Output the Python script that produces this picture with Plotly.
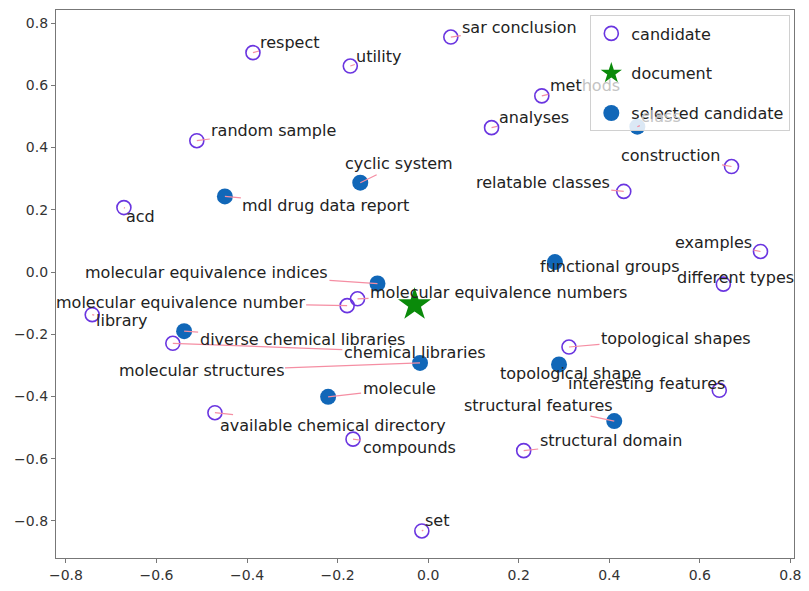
import plotly.graph_objects as go

# Candidate phrases (hollow markers)
cand_names = [
    "respect", "utility", "sar conclusion", "methods", "analyses",
    "random sample", "acd", "construction", "relatable classes", "examples",
    "different types", "library", "molecular equivalence numbers",
    "molecular equivalence number", "chemical libraries", "topological shapes",
    "interesting features", "available chemical directory", "compounds",
    "structural domain", "set",
]
cand_x = [-0.387, -0.172, 0.050, 0.251, 0.140, -0.511, -0.672, 0.670, 0.432, 0.734,
          0.652, -0.742, -0.156, -0.179, -0.564, 0.311, 0.643, -0.471, -0.166,
          0.211, -0.014]
cand_y = [0.705, 0.662, 0.755, 0.566, 0.464, 0.422, 0.207, 0.339, 0.259, 0.066,
          -0.039, -0.137, -0.086, -0.108, -0.229, -0.241, -0.380, -0.452, -0.537,
          -0.574, -0.832]

# Selected candidate phrases (filled markers)
sel_names = [
    "class", "cyclic system", "mdl drug data report", "functional groups",
    "molecular equivalence indices", "diverse chemical libraries",
    "molecular structures", "topological shape", "molecule", "structural features",
]
sel_x = [0.462, -0.150, -0.449, 0.280, -0.112, -0.539, -0.018, 0.289, -0.221, 0.411]
sel_y = [0.467, 0.287, 0.243, 0.032, -0.037, -0.190, -0.292, -0.297, -0.401, -0.479]

# Document embedding
doc_x = [-0.030]
doc_y = [-0.105]

# Label placement: pixel offset of each label from its point
label_offsets = {
    "respect": (37, -10), "utility": (29, -10), "sar conclusion": (69, -10),
    "methods": (43, -10), "analyses": (42, -10), "random sample": (77, -10),
    "acd": (17, 9), "construction": (-61, -11), "relatable classes": (-81, -9),
    "examples": (-47, -9), "different types": (12, -7), "library": (29, 6),
    "molecular equivalence numbers": (141, -6),
    "molecular equivalence number": (-167, -3), "chemical libraries": (242, 9),
    "topological shapes": (107, -9), "interesting features": (-73, -7),
    "available chemical directory": (118, 13), "compounds": (56, 8),
    "structural domain": (87, -10), "set": (15, -10),
    "class": (24, -10), "cyclic system": (39, -19), "mdl drug data report": (101, 9),
    "functional groups": (55, 4), "molecular equivalence indices": (-171, -11),
    "diverse chemical libraries": (118, 8), "molecular structures": (-219, 8),
    "topological shape": (11, 9), "molecule": (71, -8), "structural features": (-76, -16),
}

# Labels partly hidden behind the semi-transparent legend box
label_markup = {
    "methods": "met<span style='color:#c4c4c4'>hods</span>",
    "class": "<span style='color:#c4c4c4'>class</span>",
}

FONT = "DejaVu Sans"
EDGE = "#6a35e0"
FILL = "#1167b8"
STAR = "#0a8a0a"
LINK = "#f58ea3"

fig = go.Figure()
fig.add_trace(go.Scatter(
    x=cand_x, y=cand_y, mode="markers", name="candidate", legendgroup="a",
    marker=dict(symbol="circle-open", size=14, color=EDGE, line=dict(width=1.6, color=EDGE)),
))
fig.add_trace(go.Scatter(
    x=doc_x, y=doc_y, mode="markers", name="document", legendgroup="b",
    marker=dict(symbol="star", size=25, color=STAR, line=dict(width=0)),
))
fig.add_trace(go.Scatter(
    x=sel_x, y=sel_y, mode="markers", name="selected candidate", legendgroup="c",
    marker=dict(symbol="circle", size=16, color=FILL, line=dict(width=0)),
))

annotations = []
for names, xs, ys in ((cand_names, cand_x, cand_y), (sel_names, sel_x, sel_y)):
    for n, x, y in zip(names, xs, ys):
        ax, ay = label_offsets[n]
        annotations.append(dict(
            x=x, y=y, xref="x", yref="y", text=label_markup.get(n, n), ax=ax, ay=ay,
            showarrow=True, arrowhead=0, arrowwidth=1.2, arrowcolor=LINK,
            standoff=0, startstandoff=0,
            font=dict(family=FONT, size=16, color="#222222"),
        ))

axis_common = dict(
    showgrid=False, zeroline=False, showline=True, mirror=True,
    linecolor="#777777", linewidth=1.2, ticks="outside", ticklen=4,
    tickcolor="#777777", tickfont=dict(family=FONT, size=14, color="#333333"),
)
tick_vals = [-0.8, -0.6, -0.4, -0.2, 0.0, 0.2, 0.4, 0.6, 0.8]
tick_text = ["\u22120.8", "\u22120.6", "\u22120.4", "\u22120.2", "0.0", "0.2", "0.4", "0.6", "0.8"]

fig.update_layout(
    width=809, height=591,
    margin=dict(l=56, r=8, t=10, b=24),
    paper_bgcolor="white", plot_bgcolor="white",
    font=dict(family=FONT, size=16, color="#222222"),
    xaxis=dict(range=[-0.822, 0.808], tickvals=tick_vals, ticktext=tick_text, **axis_common),
    yaxis=dict(range=[-0.919, 0.842], tickvals=tick_vals, ticktext=tick_text, **axis_common),
    legend=dict(
        x=0.995, y=0.99, xanchor="right", yanchor="top",
        bgcolor="rgba(255,255,255,0.85)", bordercolor="#d0d0d0", borderwidth=1,
        font=dict(family=FONT, size=16, color="#222222"),
        traceorder="grouped", tracegroupgap=16, itemsizing="trace",
    ),
    annotations=annotations,
    showlegend=True,
)

fig.write_html("out.html")
